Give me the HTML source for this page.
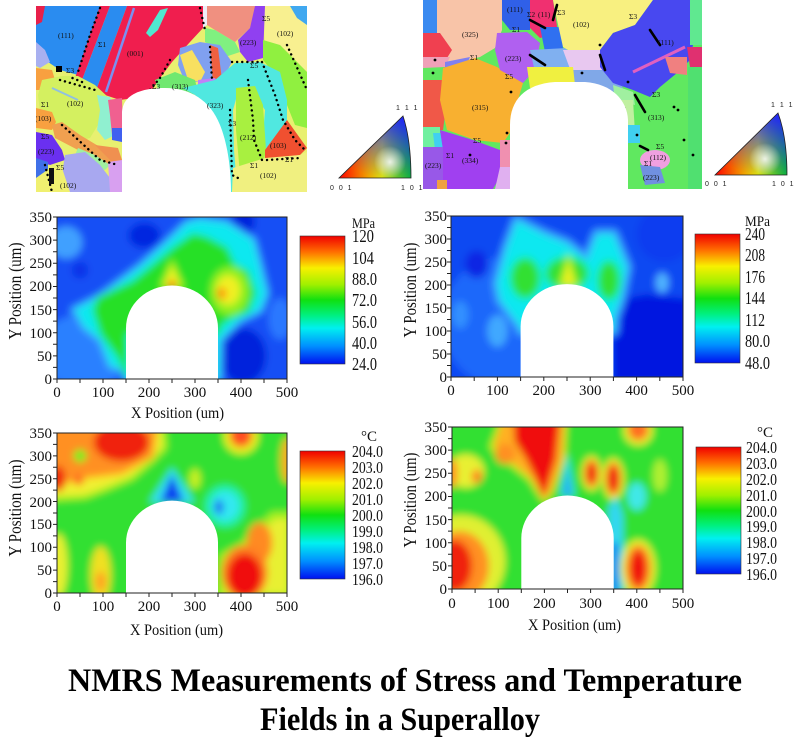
<!DOCTYPE html>
<html><head><meta charset="utf-8"><style>
html,body{margin:0;padding:0;background:#fff;}
svg{display:block;}
text{font-family:"Liberation Serif",serif;fill:#111;}
.t{font-size:15px;}
.ipf{font-family:"Liberation Sans",sans-serif;font-size:7px;fill:#222;letter-spacing:1.5px;}
.lb{font-size:7.5px;fill:#1a1a40;}
</style></head><body>
<svg width="800" height="756" viewBox="0 0 800 756" xmlns="http://www.w3.org/2000/svg">
<defs>
<filter id="bl" x="-20%" y="-20%" width="140%" height="140%"><feGaussianBlur stdDeviation="8"/></filter>
<clipPath id="cp"><rect x="0" y="0" width="500" height="350"/></clipPath>
<clipPath id="cmL"><rect x="36" y="6" width="271" height="186"/></clipPath>
<clipPath id="cmR"><rect x="423" y="0" width="279" height="189"/></clipPath>
<linearGradient id="jet" x1="0" y1="0" x2="0" y2="1">
<stop offset="0" stop-color="#f00000"/><stop offset="0.12" stop-color="#ff6a00"/><stop offset="0.25" stop-color="#f8f000"/><stop offset="0.38" stop-color="#a0f000"/><stop offset="0.5" stop-color="#10e010"/><stop offset="0.62" stop-color="#00f080"/><stop offset="0.72" stop-color="#00f0f0"/><stop offset="0.86" stop-color="#0090ff"/><stop offset="1" stop-color="#0010f0"/>
</linearGradient>
<linearGradient id="ipfH" x1="0" y1="0" x2="1" y2="0"><stop offset="0" stop-color="#ff0000"/><stop offset="0.6" stop-color="#e8f000"/><stop offset="1" stop-color="#00e000"/></linearGradient>
<linearGradient id="ipfB1" gradientUnits="userSpaceOnUse" x1="372" y1="178" x2="403" y2="116"><stop offset="0" stop-color="#2020ff" stop-opacity="0"/><stop offset="1" stop-color="#2020ff" stop-opacity="1"/></linearGradient>
<linearGradient id="ipfB2" gradientUnits="userSpaceOnUse" x1="748" y1="175" x2="778" y2="113"><stop offset="0" stop-color="#2020ff" stop-opacity="0"/><stop offset="1" stop-color="#2020ff" stop-opacity="1"/></linearGradient>
<radialGradient id="wh"><stop offset="0" stop-color="#fff" stop-opacity="0.85"/><stop offset="1" stop-color="#fff" stop-opacity="0"/></radialGradient>
</defs>
<rect width="800" height="756" fill="#fff"/>

<!-- ===== Left EBSD map ===== -->
<g clip-path="url(#cmL)">
<rect x="36" y="6" width="271" height="186" fill="#e8f070"/>
<polygon points="36,6 107,6 78,75 60,70 48,62 36,50" fill="#2a8cf0"/>
<polygon points="36,6 45,6 42,22 36,25" fill="#e8204a"/>
<polygon points="100,6 110,6 82,80 75,78" fill="#f02050"/>
<polygon points="110,6 127,6 97,88 82,80" fill="#2a8cf0"/>
<polygon points="127,6 203,6 203,28 190,42 172,62 160,78 150,92 135,98 120,100 105,95 97,88" fill="#f01e4e"/>
<line x1="134" y1="8" x2="106" y2="92" stroke="#7a90f0" stroke-width="2.5"/>
<polygon points="160,10 168,8 158,30 150,37 146,33" fill="#50e8d0"/>
<polygon points="36,42 45,50 50,62 40,68 36,66" fill="#a8b0f0"/>
<polygon points="36,68 52,70 55,80 50,90 36,90" fill="#f8a040"/>
<polygon points="42,80 62,76 78,76 95,85 108,97 105,110 98,125 90,138 75,142 60,135 48,125 40,112 38,95" fill="#d4f060"/>
<line x1="52" y1="88" x2="78" y2="100" stroke="#90c0e0" stroke-width="2"/>
<polygon points="36,108 52,112 56,122 52,130 36,128" fill="#f8a040"/>
<polygon points="52,125 62,122 80,135 105,150 120,158 118,168 100,162 78,150 55,138" fill="#f0a050"/>
<polygon points="78,148 95,155 110,165 105,170 85,162 75,155" fill="#a0f0a0"/>
<polygon points="36,132 52,135 62,150 65,160 50,165 36,160" fill="#6a30f0"/>
<polygon points="36,158 48,162 48,185 36,188" fill="#4070e8"/>
<polygon points="65,155 85,152 100,165 110,178 110,192 70,192 62,175" fill="#a8a8f0"/>
<polygon points="36,178 50,168 62,168 70,192 36,192" fill="#f0f070"/>
<polygon points="97,95 110,97 115,110 115,135 105,140 97,130 100,110" fill="#90f0d0"/>
<polygon points="108,100 122,98 123,130 112,135 110,115" fill="#f06090"/>
<polygon points="112,128 122,128 122,142 112,140" fill="#4060f0"/>
<polygon points="95,145 118,148 122,160 118,168" fill="#f09050"/>
<polygon points="108,162 122,160 122,192 110,192" fill="#d8a0f0"/>
<polygon points="263,6 295,6 307,25 307,75 285,55 265,45" fill="#f8f090"/>
<polygon points="207,6 257,6 250,28 235,42 215,30 207,25" fill="#f09080"/>
<polygon points="203,6 207,6 207,25 203,28" fill="#eeeef8"/>
<polygon points="205,28 215,30 235,42 240,52 228,56 205,42" fill="#80f080"/>
<polygon points="255,6 265,6 263,58 248,62 240,52 238,40 250,28" fill="#9040f0"/>
<polygon points="290,6 307,6 307,25 297,18" fill="#40a8f0"/>
<polygon points="263,40 280,45 307,72 307,128 295,125 285,100 275,75 263,60" fill="#90f040"/>
<polygon points="180,48 200,42 220,45 232,62 225,75 205,82 185,82 178,65" fill="#80a0f0"/>
<polygon points="180,55 192,50 205,72 200,82 188,80" fill="#f8e060"/>
<polygon points="210,45 218,48 222,80 213,84" fill="#f06040"/>
<polygon points="198,80 215,78 222,88 210,93 198,92" fill="#c080f8"/>
<polygon points="155,80 175,72 195,80 198,92 188,97 160,95" fill="#70e870"/>
<polygon points="183,88 215,80 235,63 260,62 280,72 287,100 287,140 272,150 262,150 265,110 255,95 238,92 233,110 234,150 236,175 232,192 220,192 210,110 195,95" fill="#50e8e0"/>
<polygon points="236,88 255,86 263,105 266,150 262,170 240,174 236,130" fill="#a8f040"/>
<polygon points="265,150 287,120 307,148 300,155 265,160" fill="#f05030"/>
<polygon points="233,168 265,158 300,155 307,152 307,192 232,192" fill="#f0f080"/>
<g fill="none" stroke="#000" stroke-width="2.4" stroke-linecap="round" stroke-dasharray="0.1 5">
<path d="M100,8 L90,35 L78,72"/><path d="M82,82 L70,77"/><path d="M170,60 L160,78 L150,90"/>
<path d="M210,47 L212,80"/><path d="M200,8 L205,30"/><path d="M232,62 L262,62"/>
<path d="M248,80 L253,120 L254,140 L262,160"/><path d="M262,62 L275,95 L283,120 L295,140 L305,150"/>
<path d="M230,110 L232,175 L238,178"/><path d="M267,160 L300,158"/><path d="M287,45 L307,90"/>
<path d="M60,80 L95,90"/><path d="M62,125 L100,160 L118,165"/><path d="M45,165 L52,192"/>
</g>
<rect x="56" y="66" width="6" height="6" fill="#000"/><rect x="49" y="168" width="5" height="16" fill="#111"/>
<path d="M122,193 L122,112 C123,95 140,88 165,88 C190,88 210,100 220,125 C228,145 231,170 231,193 Z" fill="#fff"/>
<g class="lb">
<text x="58" y="38">(111)</text><text x="98" y="47">Σ1</text><text x="127" y="56">(001)</text>
<text x="67" y="106">(102)</text><text x="41" y="107">Σ1</text><text x="35" y="121">(103)</text>
<text x="41" y="139">Σ5</text><text x="38" y="154">(223)</text><text x="56" y="170">Σ5</text>
<text x="60" y="188">(102)</text><text x="66" y="73">Σ3</text><text x="152" y="89">Σ3</text>
<text x="172" y="89">(313)</text><text x="207" y="108">(323)</text><text x="228" y="126">Σ3</text>
<text x="240" y="140">(212)</text><text x="270" y="148">(103)</text><text x="285" y="162">Σ1</text>
<text x="250" y="168">Σ1</text><text x="260" y="178">(102)</text><text x="277" y="36">(102)</text>
<text x="262" y="21">Σ5</text><text x="240" y="45">(223)</text><text x="250" y="68">Σ5</text>
</g>
</g>

<!-- left IPF triangle -->
<path d="M339,178 L411,178 Q411,140 403,116 Z" fill="url(#ipfH)"/>
<path d="M339,178 L411,178 Q411,140 403,116 Z" fill="url(#ipfB1)"/>
<circle cx="390" cy="162" r="16" fill="url(#wh)"/>
<path d="M339,178 L411,178 Q411,140 403,116 Z" fill="none" stroke="#222" stroke-width="0.8"/>
<text class="ipf" x="330" y="190">0 0 1</text><text class="ipf" x="401" y="190">1 0 1</text><text class="ipf" x="396" y="110">1 1 1</text>

<!-- ===== Right EBSD map ===== -->
<g clip-path="url(#cmR)">
<rect x="423" y="0" width="279" height="189" fill="#60e860"/>
<polygon points="423,0 437,0 440,33 423,35" fill="#3a8af0"/>
<polygon points="437,0 502,0 502,30 495,48 480,57 460,62 447,67 440,55 437,33" fill="#f8c4a8"/>
<polygon points="423,33 440,33 452,50 447,58 423,58" fill="#f04050"/>
<polygon points="423,57 450,57 445,67 423,68" fill="#f0a0b8"/>
<polygon points="445,62 470,57 460,80 445,85" fill="#8080f0"/>
<polygon points="423,80 443,80 447,100 443,130 423,130" fill="#f05848"/>
<polygon points="443,68 475,58 497,67 523,83 518,100 512,130 503,143 475,140 447,130 440,100" fill="#f8b030"/>
<polygon points="497,33 527,32 540,43 535,70 523,83 500,70 495,50" fill="#b060f0"/>
<polygon points="502,0 530,0 530,30 510,30 502,20" fill="#3060e8"/>
<polygon points="530,0 553,0 558,33 540,38 530,28" fill="#f03070"/>
<polygon points="540,27 562,27 563,50 545,52" fill="#3070f0"/>
<polygon points="530,50 567,48 570,70 535,72" fill="#80b0f0"/>
<polygon points="553,0 653,0 635,25 613,33 600,50 588,55 573,53 563,47 557,20" fill="#f8f080"/>
<polygon points="563,50 600,50 607,55 617,77 573,77" fill="#e8c8f0"/>
<polygon points="573,70 615,70 625,93 600,90 573,85" fill="#80a8e8"/>
<polygon points="527,67 573,67 575,85 530,88" fill="#f0f040"/>
<polygon points="600,50 613,33 635,25 653,0 690,0 698,20 690,60 677,73 660,87 650,97 633,90 613,83 600,67" fill="#4848f0"/>
<line x1="633" y1="72" x2="685" y2="47" stroke="#e060c0" stroke-width="3"/>
<polygon points="690,0 702,0 702,45 690,45" fill="#60e890"/>
<polygon points="687,47 702,47 702,67 690,67" fill="#e03070"/>
<polygon points="665,57 687,57 687,75 670,73" fill="#f08080"/>
<polygon points="613,85 633,92 635,105 615,100" fill="#a0f0a0"/>
<polygon points="620,100 633,100 635,133 622,130" fill="#c0f0a0"/>
<polygon points="627,125 640,125 640,143 628,143" fill="#40d0f0"/>
<ellipse cx="655" cy="160" rx="15" ry="10" fill="#f0a0e0"/>
<polygon points="640,165 660,167 665,183 645,185" fill="#7090e0"/>
<polygon points="688,67 702,67 702,189 688,189" fill="#50e070"/>
<polygon points="423,127 440,127 440,147 423,147" fill="#70f0a0"/>
<polygon points="433,133 443,133 443,150 435,150" fill="#40d0f0"/>
<polygon points="440,130 473,140 500,150 502,173 493,189 443,189 443,150" fill="#a040f0"/>
<polygon points="423,147 443,147 443,189 423,189" fill="#9858e8"/>
<polygon points="437,180 447,180 447,189 437,189" fill="#f0a040"/>
<polygon points="500,140 510,140 510,167 500,167" fill="#f090b0"/>
<polygon points="500,167 510,167 510,189 495,189" fill="#e0b0f0"/>
<g fill="none" stroke="#000" stroke-width="2.6" stroke-linecap="round">
<path d="M530,20 L545,28"/><path d="M557,5 L553,20"/><path d="M530,55 L545,65"/><path d="M600,55 L605,70"/>
<path d="M650,30 L660,45"/><path d="M635,95 L645,112"/><path d="M640,146 L648,150"/>
</g>
<g fill="#000">
<circle cx="435" cy="60" r="1.4"/><circle cx="433" cy="73" r="1.4"/><circle cx="511" cy="92" r="1.4"/>
<circle cx="507" cy="133" r="1.4"/><circle cx="470" cy="155" r="1.4"/><circle cx="506" cy="143" r="1.4"/>
<circle cx="582" cy="73" r="1.4"/><circle cx="628" cy="82" r="1.4"/><circle cx="624" cy="108" r="1.4"/>
<circle cx="637" cy="135" r="1.4"/><circle cx="674" cy="107" r="1.4"/><circle cx="678" cy="110" r="1.4"/>
<circle cx="684" cy="140" r="1.4"/><circle cx="693" cy="155" r="1.4"/><circle cx="600" cy="45" r="1.4"/>
</g>
<path d="M510,190 L510,125 C510,100 525,84 555,82 L585,82 C612,84 627,100 628,120 L628,190 Z" fill="#fff"/>
<g class="lb">
<text x="507" y="12">(111)</text><text x="527" y="17">Σ2</text><text x="538" y="17">(11)</text>
<text x="557" y="15">Σ3</text><text x="573" y="27">(102)</text><text x="629" y="19">Σ3</text>
<text x="462" y="37">(325)</text><text x="512" y="32">Σ1</text><text x="505" y="61">(223)</text>
<text x="470" y="60">Σ1</text><text x="505" y="79">Σ5</text><text x="472" y="110">(315)</text>
<text x="658" y="45">(111)</text><text x="652" y="97">Σ3</text><text x="648" y="120">(313)</text>
<text x="473" y="143">Σ5</text><text x="446" y="158">Σ1</text><text x="462" y="163">(334)</text>
<text x="425" y="168">(223)</text><text x="656" y="149">Σ5</text><text x="650" y="160">(112)</text>
<text x="644" y="166">Σ1</text><text x="643" y="180">(223)</text>
</g>
</g>

<!-- right IPF triangle -->
<path d="M715,175 L787,175 Q787,137 778,113 Z" fill="url(#ipfH)"/>
<path d="M715,175 L787,175 Q787,137 778,113 Z" fill="url(#ipfB2)"/>
<circle cx="765" cy="159" r="16" fill="url(#wh)"/>
<path d="M715,175 L787,175 Q787,137 778,113 Z" fill="none" stroke="#222" stroke-width="0.8"/>
<text class="ipf" x="705" y="186">0 0 1</text><text class="ipf" x="772" y="186">1 0 1</text><text class="ipf" x="771" y="107">1 1 1</text>

<!-- ===== Plot A (stress left) ===== -->
<g transform="translate(57,217) scale(0.46,0.462857)">
<g clip-path="url(#cp)">
<g filter="url(#bl)">
<rect x="-60" y="-60" width="620" height="470" fill="#1250f5"/>
<ellipse cx="60" cy="290" rx="100" ry="80" fill="#2a80ff"/>
<ellipse cx="20" cy="55" rx="35" ry="35" fill="#40a0ff"/>
<ellipse cx="190" cy="40" rx="35" ry="28" fill="#0628e0"/>
<ellipse cx="50" cy="115" rx="18" ry="18" fill="#0a30e8"/>
<ellipse cx="405" cy="300" rx="50" ry="60" fill="#0420dc"/>
<ellipse cx="405" cy="10" rx="25" ry="28" fill="#0420dc"/>
<ellipse cx="485" cy="220" rx="25" ry="45" fill="#2a78ff"/>
<polygon points="36,201 94,172 181,107 238,56 282,13 311,6 368,13 426,50 441,107 455,165 441,201 397,222 368,251 354,266 352,350 150,350 152,331 116,323 94,266 58,237 43,208" fill="#3aa0ff" stroke="#3aa0ff" stroke-width="16" stroke-linejoin="round"/>
<polygon points="36,201 94,172 181,107 238,56 282,13 311,6 368,13 426,50 441,107 455,165 441,201 397,222 368,251 354,266 352,350 150,350 152,331 116,323 94,266 58,237 43,208" fill="#10e8f0"/>
<polygon points="80,201 90,176 166,140 210,104 253,68 296,38 325,45 368,68 385,104 414,118 430,165 415,203 378,218 356,232 350,250 150,250 150,340 135,304 97,253" fill="#10f0a0" stroke="#10f0a0" stroke-width="10" stroke-linejoin="round"/>
<polygon points="80,201 90,176 166,140 210,104 253,68 296,38 325,45 368,68 385,104 414,118 430,165 415,203 378,218 356,232 350,250 150,250 150,340 135,304 97,253" fill="#28e028"/>
<ellipse cx="375" cy="160" rx="42" ry="52" fill="#90f020"/>
<ellipse cx="372" cy="158" rx="26" ry="32" fill="#f0f020"/>
<ellipse cx="358" cy="165" rx="10" ry="13" fill="#ff9010"/>
<polygon points="222,152 250,90 278,152" fill="#a0f020"/>
<polygon points="232,150 250,105 268,150" fill="#f0f020"/>
<circle cx="250" cy="146" r="8" fill="#ff4010"/>
</g>
<path d="M150,352 L150,240 A100,92 0 0 1 350,240 L350,352 Z" fill="#fff"/>
</g>
</g>
<rect x="57" y="217" width="230" height="162" fill="none" stroke="#222" stroke-width="1"/>
<line x1="55" y1="379.5" x2="55" y2="216" stroke="#222" stroke-width="4" stroke-dasharray="1 10.57"/>
<line x1="56.5" y1="381" x2="288" y2="381" stroke="#222" stroke-width="4" stroke-dasharray="1 22"/>
<g class="t" text-anchor="middle">
<text x="57" y="397">0</text><text x="103" y="397">100</text><text x="149" y="397">200</text><text x="195" y="397">300</text><text x="241" y="397">400</text><text x="287" y="397">500</text>
</g>
<g class="t" text-anchor="end">
<text x="52" y="384">0</text><text x="52" y="361">50</text><text x="52" y="338">100</text><text x="52" y="315">150</text><text x="52" y="291">200</text><text x="52" y="268">250</text><text x="52" y="245">300</text><text x="52" y="222">350</text>
</g>
<text x="21" y="291" font-size="18" text-anchor="middle" transform="rotate(-90 21 291)" textLength="97" lengthAdjust="spacingAndGlyphs">Y Position (um)</text>
<text x="131" y="418" font-size="16" textLength="93" lengthAdjust="spacingAndGlyphs">X Position (um)</text>
<rect x="300" y="236" width="45" height="128" fill="url(#jet)" stroke="#333" stroke-width="0.6"/>
<text x="352" y="228" font-size="15" textLength="23" lengthAdjust="spacingAndGlyphs">MPa</text>
<g font-size="18">
<text x="352" y="242" textLength="22" lengthAdjust="spacingAndGlyphs">120</text>
<text x="352" y="264" textLength="22" lengthAdjust="spacingAndGlyphs">104</text>
<text x="352" y="285" textLength="25" lengthAdjust="spacingAndGlyphs">88.0</text>
<text x="352" y="306" textLength="25" lengthAdjust="spacingAndGlyphs">72.0</text>
<text x="352" y="328" textLength="25" lengthAdjust="spacingAndGlyphs">56.0</text>
<text x="352" y="349" textLength="25" lengthAdjust="spacingAndGlyphs">40.0</text>
<text x="352" y="370" textLength="25" lengthAdjust="spacingAndGlyphs">24.0</text>
</g>

<!-- ===== Plot B (stress right) ===== -->
<g transform="translate(451,216) scale(0.464,0.46)">
<g clip-path="url(#cp)">
<g filter="url(#bl)">
<rect x="-60" y="-60" width="620" height="470" fill="#1048f2"/>
<ellipse cx="110" cy="230" rx="130" ry="140" fill="#1c68fa"/>
<polygon points="350,360 510,360 510,180 420,170 350,185" fill="#0418e0"/>
<ellipse cx="460" cy="40" rx="60" ry="60" fill="#0c3cf0"/>
<ellipse cx="100" cy="250" rx="22" ry="35" fill="#40a8ff"/>
<ellipse cx="20" cy="215" rx="18" ry="30" fill="#3090ff"/>
<ellipse cx="455" cy="145" rx="14" ry="22" fill="#50b4ff"/>
<ellipse cx="55" cy="105" rx="25" ry="30" fill="#0828e4"/>
<polygon points="99,147 120,70 142,10 199,39 250,60 293,96 315,39 350,39 379,111 365,183 352,220 350,250 150,250 149,241 106,183" fill="#3aa0ff" stroke="#3aa0ff" stroke-width="22" stroke-linejoin="round"/>
<polygon points="99,147 120,70 142,10 199,39 250,60 293,96 315,39 350,39 379,111 365,183 352,220 350,250 150,250 149,241 106,183" fill="#10e8f0"/>
<ellipse cx="160" cy="135" rx="36" ry="48" fill="#10f0a0"/>
<ellipse cx="250" cy="125" rx="50" ry="40" fill="#10f0a0"/>
<ellipse cx="340" cy="140" rx="28" ry="46" fill="#10f0a0"/>
<ellipse cx="160" cy="135" rx="28" ry="40" fill="#30e030"/>
<ellipse cx="250" cy="125" rx="42" ry="32" fill="#30e030"/>
<ellipse cx="340" cy="140" rx="20" ry="38" fill="#30e030"/>
<polygon points="230,152 253,80 276,152" fill="#a0f020"/>
<polygon points="240,150 253,95 266,150" fill="#f0f020"/>
</g>
<path d="M150,352 L150,240 A100,92 0 0 1 350,240 L350,352 Z" fill="#fff"/>
</g>
</g>
<rect x="451" y="216" width="232" height="161" fill="none" stroke="#222" stroke-width="1"/>
<line x1="449" y1="377.5" x2="449" y2="215" stroke="#222" stroke-width="4" stroke-dasharray="1 10.5"/>
<line x1="450.5" y1="379" x2="684" y2="379" stroke="#222" stroke-width="4" stroke-dasharray="1 22.2"/>
<g class="t" text-anchor="middle">
<text x="451" y="395">0</text><text x="497.4" y="395">100</text><text x="543.8" y="395">200</text><text x="590.2" y="395">300</text><text x="636.6" y="395">400</text><text x="683" y="395">500</text>
</g>
<g class="t" text-anchor="end">
<text x="447" y="382">0</text><text x="447" y="359">50</text><text x="447" y="336">100</text><text x="447" y="313">150</text><text x="447" y="290">200</text><text x="447" y="267">250</text><text x="447" y="244">300</text><text x="447" y="221">350</text>
</g>
<text x="416" y="290" font-size="18" text-anchor="middle" transform="rotate(-90 416 290)" textLength="95" lengthAdjust="spacingAndGlyphs">Y Position (um)</text>
<rect x="695" y="234" width="45" height="129" fill="url(#jet)" stroke="#333" stroke-width="0.6"/>
<text x="745" y="226" font-size="15" textLength="25" lengthAdjust="spacingAndGlyphs">MPa</text>
<g font-size="18">
<text x="745" y="240" textLength="20" lengthAdjust="spacingAndGlyphs">240</text>
<text x="745" y="261" textLength="20" lengthAdjust="spacingAndGlyphs">208</text>
<text x="745" y="283" textLength="20" lengthAdjust="spacingAndGlyphs">176</text>
<text x="745" y="304" textLength="20" lengthAdjust="spacingAndGlyphs">144</text>
<text x="745" y="326" textLength="20" lengthAdjust="spacingAndGlyphs">112</text>
<text x="745" y="347" textLength="25" lengthAdjust="spacingAndGlyphs">80.0</text>
<text x="745" y="369" textLength="25" lengthAdjust="spacingAndGlyphs">48.0</text>
</g>

<!-- ===== Plot C (temperature left) ===== -->
<g transform="translate(57,433) scale(0.46,0.457143)">
<g clip-path="url(#cp)">
<g filter="url(#bl)">
<rect x="-60" y="-60" width="620" height="470" fill="#30e030"/>
<polygon points="-20,-20 225,-20 230,30 200,60 160,95 100,120 60,135 -20,140" fill="#a0f020" stroke="#a0f020" stroke-width="20" stroke-linejoin="round"/>
<polygon points="-20,-20 225,-20 230,30 200,60 160,95 100,120 60,135 -20,140" fill="#f0f030"/>
<polygon points="-20,-20 215,-20 205,50 140,85 60,95 -20,115" fill="#ffc020" stroke="#ffc020" stroke-width="14" stroke-linejoin="round"/>
<polygon points="-20,-20 215,-20 205,50 140,85 60,95 -20,115" fill="#ff9020"/>
<ellipse cx="140" cy="20" rx="60" ry="42" fill="#f02010"/>
<ellipse cx="3" cy="100" rx="15" ry="28" fill="#f02010"/>
<circle cx="50" cy="50" r="14" fill="#70f020"/>
<circle cx="47" cy="103" r="11" fill="#ff6020"/>
<circle cx="400" cy="8" r="38" fill="#e8f020"/>
<ellipse cx="400" cy="5" rx="24" ry="26" fill="#ff5020"/>
<ellipse cx="500" cy="60" rx="14" ry="50" fill="#f8b020"/>
<ellipse cx="300" cy="100" rx="12" ry="22" fill="#c8f020"/>
<polygon points="200,152 250,75 300,152" fill="#30e0f0"/>
<polygon points="225,150 250,90 275,150" fill="#0a40f0"/>
<ellipse cx="365" cy="160" rx="38" ry="40" fill="#30e8f0" stroke="#20f0a0" stroke-width="14"/>
<ellipse cx="352" cy="162" rx="10" ry="16" fill="#2070f0"/>
<polygon points="355,360 510,360 510,180 470,180 440,210 400,250 360,270" fill="#e8f030" stroke="#a0f020" stroke-width="16" stroke-linejoin="round"/>
<ellipse cx="440" cy="240" rx="28" ry="45" fill="#ff8a20"/>
<ellipse cx="408" cy="305" rx="50" ry="60" fill="#ff8020"/>
<ellipse cx="408" cy="312" rx="38" ry="48" fill="#f01010"/>
<ellipse cx="3" cy="290" rx="20" ry="70" fill="#e8f030"/>
<ellipse cx="95" cy="310" rx="22" ry="62" fill="#f0e020"/>
<ellipse cx="95" cy="325" rx="11" ry="22" fill="#ffa020"/>
</g>
<path d="M150,352 L150,240 A100,92 0 0 1 350,240 L350,352 Z" fill="#fff"/>
</g>
</g>
<rect x="57" y="433" width="230" height="160" fill="none" stroke="#222" stroke-width="1"/>
<line x1="55" y1="593.5" x2="55" y2="432" stroke="#222" stroke-width="4" stroke-dasharray="1 10.43"/>
<line x1="56.5" y1="595" x2="288" y2="595" stroke="#222" stroke-width="4" stroke-dasharray="1 22"/>
<g class="t" text-anchor="middle">
<text x="57" y="611">0</text><text x="103" y="611">100</text><text x="149" y="611">200</text><text x="195" y="611">300</text><text x="241" y="611">400</text><text x="287" y="611">500</text>
</g>
<g class="t" text-anchor="end">
<text x="52" y="598">0</text><text x="52" y="575">50</text><text x="52" y="552">100</text><text x="52" y="529">150</text><text x="52" y="507">200</text><text x="52" y="484">250</text><text x="52" y="461">300</text><text x="52" y="438">350</text>
</g>
<text x="21" y="508" font-size="18" text-anchor="middle" transform="rotate(-90 21 508)" textLength="97" lengthAdjust="spacingAndGlyphs">Y Position (um)</text>
<text x="130" y="635" font-size="16" textLength="93" lengthAdjust="spacingAndGlyphs">X Position (um)</text>
<rect x="300" y="451" width="45" height="128" fill="url(#jet)" stroke="#333" stroke-width="0.6"/>
<text x="361" y="441" font-size="15">°C</text>
<g font-size="17">
<text x="352" y="457" textLength="31" lengthAdjust="spacingAndGlyphs">204.0</text>
<text x="352" y="473" textLength="31" lengthAdjust="spacingAndGlyphs">203.0</text>
<text x="352" y="489" textLength="31" lengthAdjust="spacingAndGlyphs">202.0</text>
<text x="352" y="505" textLength="31" lengthAdjust="spacingAndGlyphs">201.0</text>
<text x="352" y="521" textLength="31" lengthAdjust="spacingAndGlyphs">200.0</text>
<text x="352" y="537" textLength="31" lengthAdjust="spacingAndGlyphs">199.0</text>
<text x="352" y="553" textLength="31" lengthAdjust="spacingAndGlyphs">198.0</text>
<text x="352" y="569" textLength="31" lengthAdjust="spacingAndGlyphs">197.0</text>
<text x="352" y="585" textLength="31" lengthAdjust="spacingAndGlyphs">196.0</text>
</g>

<!-- ===== Plot D (temperature right) ===== -->
<g transform="translate(452,427) scale(0.462,0.462857)">
<g clip-path="url(#cp)">
<g filter="url(#bl)">
<rect x="-60" y="-60" width="620" height="470" fill="#30e030"/>
<polygon points="80,45 105,-20 250,-20 245,70 218,145 198,165 165,115 115,75" fill="#c0f020"/>
<polygon points="90,40 110,-20 245,-20 240,70 215,140 198,158 170,110 120,70" fill="#ffb020"/>
<ellipse cx="115" cy="58" rx="22" ry="22" fill="#ff9020"/>
<polygon points="133,-20 234,-20 225,70 205,135 198,150 185,120 160,70 135,30" fill="#f01010"/>
<ellipse cx="30" cy="95" rx="40" ry="36" fill="#e8f030"/>
<ellipse cx="54" cy="107" rx="11" ry="15" fill="#ff8020"/>
<ellipse cx="0" cy="100" rx="12" ry="32" fill="#ff9020"/>
<ellipse cx="403" cy="8" rx="32" ry="32" fill="#e8f030"/>
<ellipse cx="403" cy="5" rx="22" ry="24" fill="#ff7020"/>
<ellipse cx="302" cy="100" rx="22" ry="38" fill="#e8f030"/>
<ellipse cx="302" cy="100" rx="16" ry="30" fill="#ff8020"/>
<ellipse cx="302" cy="100" rx="10" ry="22" fill="#f02010"/>
<ellipse cx="349" cy="112" rx="24" ry="45" fill="#e8f030"/>
<ellipse cx="349" cy="112" rx="17" ry="36" fill="#ff8020"/>
<ellipse cx="349" cy="112" rx="12" ry="28" fill="#f02010"/>
<polygon points="234,150 250,55 266,150" fill="#30e0f0"/>
<polygon points="244,148 250,85 256,148" fill="#1a80f0"/>
<ellipse cx="400" cy="150" rx="20" ry="30" fill="#40e8e8"/>
<polygon points="338,360 370,360 370,190 356,150 338,175" fill="#30d8f0"/>
<rect x="346" y="250" width="12" height="110" fill="#1050f0"/>
<ellipse cx="20" cy="290" rx="95" ry="100" fill="#e0f030"/>
<ellipse cx="15" cy="300" rx="65" ry="75" fill="#ff9020"/>
<ellipse cx="5" cy="300" rx="38" ry="55" fill="#f02010"/>
<ellipse cx="403" cy="305" rx="38" ry="62" fill="#e8f030"/>
<ellipse cx="403" cy="305" rx="27" ry="50" fill="#ff8020"/>
<ellipse cx="403" cy="305" rx="17" ry="38" fill="#f01010"/>
<ellipse cx="450" cy="105" rx="15" ry="35" fill="#b0f030"/>
</g>
<path d="M150,352 L150,240 A100,92 0 0 1 350,240 L350,352 Z" fill="#fff"/>
</g>
</g>
<rect x="452" y="427" width="231" height="162" fill="none" stroke="#222" stroke-width="1"/>
<line x1="450" y1="589.5" x2="450" y2="426" stroke="#222" stroke-width="4" stroke-dasharray="1 10.57"/>
<line x1="451.5" y1="591" x2="684" y2="591" stroke="#222" stroke-width="4" stroke-dasharray="1 22.1"/>
<g class="t" text-anchor="middle">
<text x="452" y="608">0</text><text x="498.2" y="608">100</text><text x="544.4" y="608">200</text><text x="590.6" y="608">300</text><text x="636.8" y="608">400</text><text x="683" y="608">500</text>
</g>
<g class="t" text-anchor="end">
<text x="447" y="594">0</text><text x="447" y="571">50</text><text x="447" y="548">100</text><text x="447" y="525">150</text><text x="447" y="501">200</text><text x="447" y="478">250</text><text x="447" y="455">300</text><text x="447" y="432">350</text>
</g>
<text x="416" y="500" font-size="18" text-anchor="middle" transform="rotate(-90 416 500)" textLength="95" lengthAdjust="spacingAndGlyphs">Y Position (um)</text>
<text x="528" y="630" font-size="16" textLength="93" lengthAdjust="spacingAndGlyphs">X Position (um)</text>
<rect x="696" y="447" width="45" height="127" fill="url(#jet)" stroke="#333" stroke-width="0.6"/>
<text x="757" y="437" font-size="15">°C</text>
<g font-size="17">
<text x="746" y="453" textLength="31" lengthAdjust="spacingAndGlyphs">204.0</text>
<text x="746" y="469" textLength="31" lengthAdjust="spacingAndGlyphs">203.0</text>
<text x="746" y="485" textLength="31" lengthAdjust="spacingAndGlyphs">202.0</text>
<text x="746" y="501" textLength="31" lengthAdjust="spacingAndGlyphs">201.0</text>
<text x="746" y="517" textLength="31" lengthAdjust="spacingAndGlyphs">200.0</text>
<text x="746" y="532" textLength="31" lengthAdjust="spacingAndGlyphs">199.0</text>
<text x="746" y="548" textLength="31" lengthAdjust="spacingAndGlyphs">198.0</text>
<text x="746" y="564" textLength="31" lengthAdjust="spacingAndGlyphs">197.0</text>
<text x="746" y="580" textLength="31" lengthAdjust="spacingAndGlyphs">196.0</text>
</g>

<!-- ===== Title ===== -->
<text x="68" y="691" font-size="33" font-weight="bold" textLength="674" lengthAdjust="spacingAndGlyphs" style="fill:#000">NMRS Measurements of Stress and Temperature</text>
<text x="260" y="730" font-size="33" font-weight="bold" textLength="280" lengthAdjust="spacingAndGlyphs" style="fill:#000">Fields in a Superalloy</text>
</svg>
</body></html>
